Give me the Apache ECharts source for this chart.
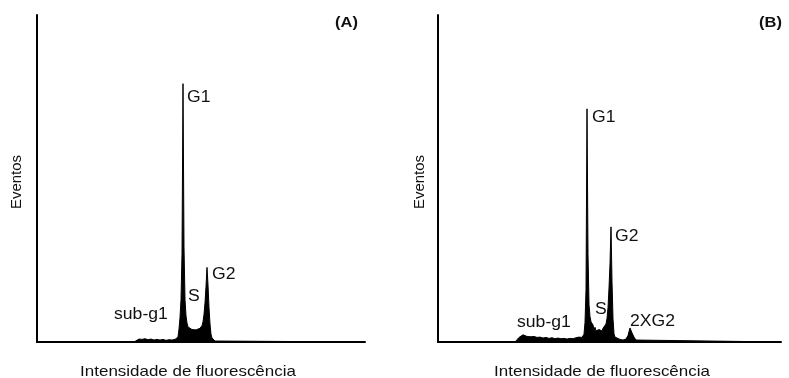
<!DOCTYPE html>
<html>
<head>
<meta charset="utf-8">
<script src="https://cdn.jsdelivr.net/npm/echarts@6/dist/echarts.min.js"></script>
<style>html,body{margin:0;padding:0;background:#fff}#c{width:789px;height:378px}</style>
</head>
<body>
<div id="c"></div>
<script>
// Panel A: fluorescence channel vs event count
var xA = [0,291,297,306,315,324,333,342,351,360,369,378,387,396,405,414,420,423,426,429,432,435,438,441,444,447,450,453,459,465,471,477,483,489,495,498,501,504,507,510,513,516,519,522,525,528,534,537,984];
var yA = [0,0,6,9,8,10,7,9,6,8,6,8,5,7,6,8,10,15,40,75,130,270,790,290,130,80,58,46,40,38,36,37,39,42,50,62,85,120,170,228,175,105,55,24,12,8,3,0,0];
// Panel B
var xB = [0,231,237,243,249,255,261,267,273,279,288,297,306,315,324,333,342,351,360,369,378,387,396,405,414,423,432,438,441,444,447,450,453,456,459,462,465,468,471,474,477,480,483,486,489,492,495,498,501,504,507,510,513,516,519,522,525,528,531,537,546,555,564,570,573,576,579,582,588,594,600,1029];
var yB = [0,0,5,14,20,22,19,17,18,16,17,14,15,12,14,11,13,10,12,10,11,9,11,10,13,15,14,24,60,160,713,270,115,78,62,66,52,38,45,34,40,30,38,32,40,34,42,38,48,55,72,105,165,240,352,185,72,25,15,10,8,6,9,20,32,43,38,28,15,6,0,0];
var maxA = 984, maxB = 1029, maxY = 1000;

var labelsA = ['G1','S','G2','sub-g1'];
var labelsB = ['G1','S','G2','sub-g1','2XG2'];
var axisX = 'Intensidade de fluorescência';
var axisY = 'Eventos';

function pairs(xs, ys){ return xs.map(function(x,i){ return [x, ys[i]]; }); }

var chart = echarts.init(document.getElementById('c'), null, {renderer:'canvas'});
var FONT = '"Liberation Sans", Arial, sans-serif';
function axisLine(){ return {show:true, onZero:false, lineStyle:{color:'#000', width:2}}; }
function xAxis(idx, max){ return {type:'value', gridIndex:idx, min:0, max:max, axisLine:axisLine(), axisTick:{show:false}, axisLabel:{show:false}, splitLine:{show:false}}; }
function yAxis(idx){ return {type:'value', gridIndex:idx, min:0, max:maxY, axisLine:axisLine(), axisTick:{show:false}, axisLabel:{show:false}, splitLine:{show:false}}; }
function series(idx, data){ return {type:'line', xAxisIndex:idx, yAxisIndex:idx, data:data, showSymbol:false, symbol:'none', animation:false,
  lineStyle:{color:'#000', width:1}, areaStyle:{color:'#000', opacity:1}}; }
function txt(t, x, y, opt){
  opt = opt || {};
  return {type:'text', x:x, y:y, rotation:opt.rot||0, scaleX:opt.sx||1.1, silent:true,
    style:{text:t, font:(opt.bold?'bold ':'')+(opt.size||16)+'px '+FONT, fill:'#111', align:opt.align||'left', verticalAlign:'middle'}};
}

chart.setOption({
  animation:false,
  backgroundColor:'#fff',
  grid:[{left:37, top:15, width:328, height:327}, {left:438, top:15, width:343, height:327}],
  xAxis:[xAxis(0,maxA), xAxis(1,maxB)],
  yAxis:[yAxis(0), yAxis(1)],
  series:[series(0, pairs(xA,yA)), series(1, pairs(xB,yB))],
  graphic:[
    txt(labelsA[0], 187, 98), txt(labelsA[1], 188, 297), txt(labelsA[2], 212, 275), txt(labelsA[3], 114, 315),
    txt(labelsB[0], 592, 118), txt(labelsB[1], 595, 310), txt(labelsB[2], 615, 237), txt(labelsB[3], 517, 323), txt(labelsB[4], 630, 322),
    txt('(A)', 335, 23, {bold:true, sx:1.1, size:15}), txt('(B)', 759, 23, {bold:true, sx:1.1, size:15}),
    txt(axisX, 188, 372, {align:'center', sx:1.13, size:15}), txt(axisX, 602, 372, {align:'center', sx:1.13, size:15}),
    txt(axisY, 17, 182, {align:'center', rot:Math.PI/2, sx:1, size:15}), txt(axisY, 420, 182, {align:'center', rot:Math.PI/2, sx:1, size:15})
  ]
});
</script>
</body>
</html>
